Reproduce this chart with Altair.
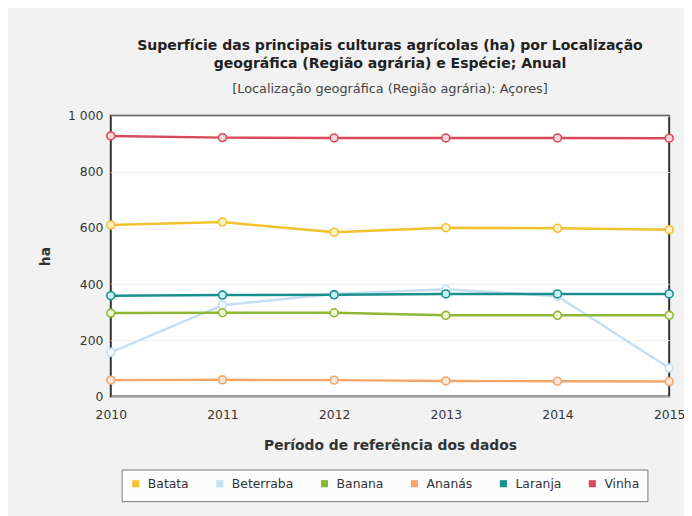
import altair as alt
import pandas as pd

years = [2010, 2011, 2012, 2013, 2014, 2015]
series = ["Batata", "Beterraba", "Banana", "Ananás", "Laranja", "Vinha"]
batata = [611, 621, 585, 601, 599, 594]
beterraba = [157, 325, 365, 382, 357, 101]
banana = [297, 298, 298, 289, 289, 289]
ananas = [58, 59, 58, 55, 54, 53]
laranja = [359, 361, 362, 365, 365, 365]
vinha = [928, 922, 921, 921, 921, 920]

line_colors = ["#f2c12e", "#c5dff2", "#8cb833", "#f5a567", "#18908f", "#d9495b"]
fill_colors = ["#fdf3c4", "#f7fbff", "#eef6d2", "#fde6d4", "#c9f1f4", "#f9d9de"]
y_ticks = [0, 200, 400, 600, 800, 1000]

values = [batata, beterraba, banana, ananas, laranja, vinha]
rows = []
for name, vals in zip(series, values):
    for yr, v in zip(years, vals):
        rows.append({"Ano": yr, "Espécie": name, "ha": v})
df = pd.DataFrame(rows)

x_enc = alt.X("Ano:Q", scale=alt.Scale(domain=[2010, 2015], nice=False),
              axis=alt.Axis(values=years, format="d", title="Período de referência dos dados",
                            grid=False, domain=False, ticks=False, labelPadding=12,
                            labelFlush=False, labelBound=False, labelOverlap=False,
                            labelFont="DejaVu Sans", labelFontSize=12.5, labelColor="#333",
                            titleFont="DejaVu Sans", titleFontSize=14, titleFontWeight="bold",
                            titleColor="#333", titlePadding=18))
y_enc = alt.Y("ha:Q", scale=alt.Scale(domain=[0, 1000], nice=False),
              axis=alt.Axis(values=y_ticks, title="ha", grid=True, gridColor="#efefef",
                            domain=False, ticks=False, labelPadding=8,
                            labelFlush=False, labelBound=False,
                            labelExpr="datum.value >= 1000 ? '1 000' : datum.label",
                            labelFont="DejaVu Sans", labelFontSize=12.5, labelColor="#333",
                            titleFont="DejaVu Sans", titleFontSize=14, titleFontWeight="bold",
                            titleColor="#333", titlePadding=15))

base = alt.Chart(df)

lines = base.mark_line(strokeWidth=2.5).encode(
    x=x_enc, y=y_enc,
    color=alt.Color("Espécie:N", scale=alt.Scale(domain=series, range=line_colors),
                    sort=series,
                    legend=alt.Legend(title=None, orient="none", legendX=11, legendY=358,
                                      direction="horizontal", columns=6,
                                      symbolType="square", symbolSize=10, symbolStrokeWidth=4,
                                      labelFont="DejaVu Sans", labelFontSize=12.5, labelColor="#333",
                                      columnPadding=21, padding=8, strokeColor="#777",
                                      fillColor="#fcfcfc", labelOffset=6)),
    strokeWidth=alt.condition(alt.datum["Espécie"] == "Beterraba", alt.value(1.8), alt.value(2.6)),
)

points = base.mark_point(size=64, strokeWidth=1.6, filled=False, opacity=1).encode(
    x="Ano:Q", y="ha:Q",
    stroke=alt.Stroke("Espécie:N", scale=alt.Scale(domain=series, range=line_colors), legend=None),
    fill=alt.Fill("Espécie:N", scale=alt.Scale(domain=series, range=fill_colors), legend=None),
)

chart = alt.layer(lines, points).properties(
    width=565, height=284,
    autosize=alt.AutoSizeParams(type="none"),
    padding={"left": 104, "top": 106, "right": 15, "bottom": 118},
    background="#f2f2f2",
    title=alt.Title(
        text=["Superfície das principais culturas agrícolas (ha) por Localização",
              "geográfica (Região agrária) e Espécie; Anual"],
        subtitle="[Localização geográfica (Região agrária): Açores]",
        anchor="middle", font="DejaVu Sans", fontSize=14.2, fontWeight="bold",
        color="#222", lineHeight=18, subtitleFont="DejaVu Sans", subtitleFontSize=13,
        subtitleColor="#444", subtitlePadding=12, offset=14),
).configure_view(
    stroke="#333", strokeWidth=2, fill="white"
)

chart.save("out.html", embed_options={"renderer": "svg", "actions": False})
